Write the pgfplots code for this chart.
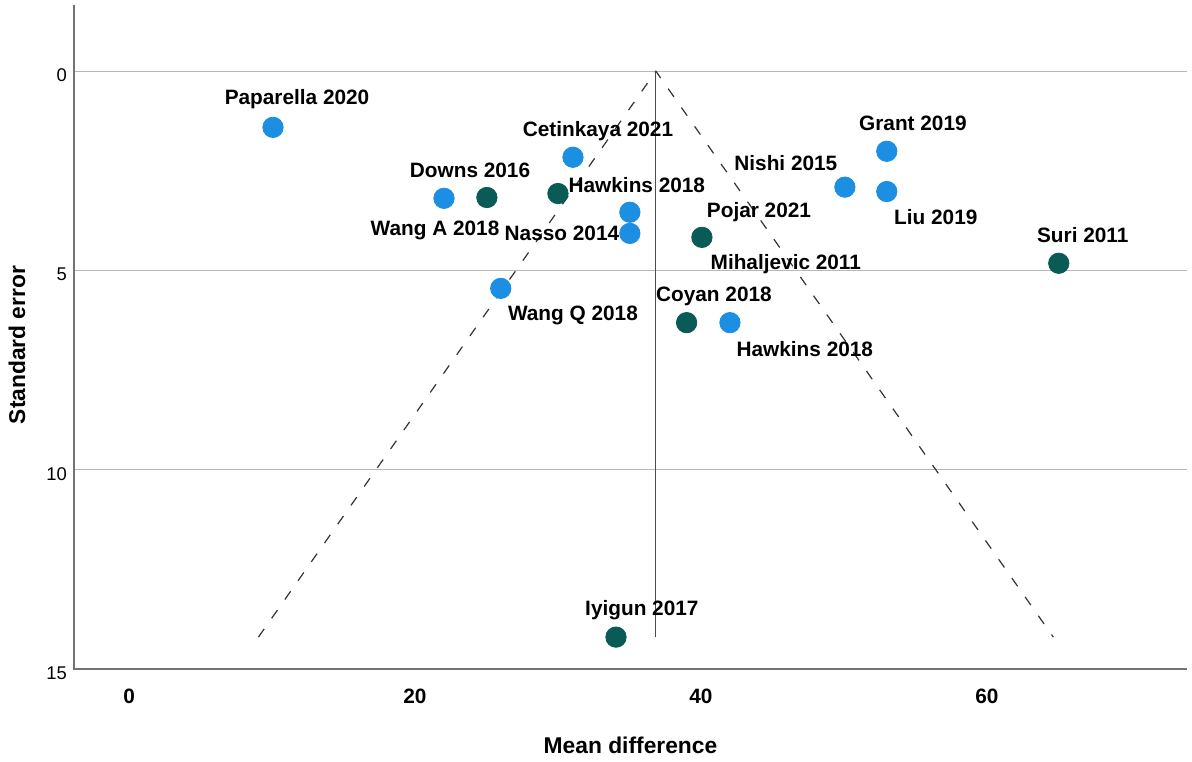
\documentclass[border=0pt]{standalone}
\usepackage{fontspec}
\setmainfont{Liberation Sans}
\usepackage{pgfplots}
\pgfplotsset{compat=1.18}
\definecolor{ptblue}{RGB}{28,143,227}
\definecolor{ptdark}{RGB}{10,90,85}
\tikzset{lab/.style={font=\fontsize{10.4}{12}\selectfont\bfseries, text height=7.45pt, text depth=0pt, inner sep=0pt, anchor=center}}
\begin{document}
\begin{tikzpicture}
\begin{axis}[name=ax, scale only axis, width=556.5pt, height=332pt,
  xmin=-3.85, xmax=74.0, ymin=-1.66, ymax=15, y dir=reverse,
  axis line style={draw=none}, major tick length=0pt,
  xtick={0,20,40,60}, ytick={0,5,10,15},
  ymajorgrids, grid style={color=black!28, line width=0.6pt},
  /pgf/number format/assume math mode=true,
  xticklabel style={font=\fontsize{10.4}{12}\selectfont\bfseries, yshift=-6.5pt},
  yticklabel style={font=\fontsize{9.2}{11}\selectfont, xshift=0pt, yshift=-2pt},
  clip=false]
% blue studies
\addplot[only marks, mark=*, mark size=5.1pt, color=ptblue, mark options={draw=ptblue, fill=ptblue}] coordinates {
  (10.07,1.41) (22.03,3.19) (31.05,2.16) (35.03,3.54) (35.03,4.07)
  (26.0,5.45) (42.03,6.31) (50.07,2.91) (53.0,2.01) (53.0,3.02)};
% dark studies
\addplot[only marks, mark=*, mark size=5.1pt, color=ptdark, mark options={draw=ptdark, fill=ptdark}] coordinates {
  (25.03,3.17) (30.0,3.07) (40.07,4.17) (39.0,6.31) (65.03,4.82) (34.06,14.2)};
% funnel
\addplot[black!80, line width=0.6pt, dash pattern=on 5pt off 6.5pt] coordinates {(9.05,14.2) (36.85,0) (64.65,14.2)};
\addplot[black!70, line width=0.6pt] coordinates {(36.85,0) (36.85,14.2)};
% labels
\node[lab] at (axis cs:11.75,0.65) {Paparella 2020};
\node[lab] at (axis cs:32.80,1.46) {Cetinkaya 2021};
\node[lab] at (axis cs:23.85,2.49) {Downs 2016};
\node[lab] at (axis cs:35.52,2.86) {Hawkins 2018};
\node[lab] at (axis cs:21.40,3.94) {Wang A 2018};
\node[lab] at (axis cs:30.28,4.07) {Nasso 2014};
\node[lab] at (axis cs:44.06,3.49) {Pojar 2021};
\node[lab] at (axis cs:45.94,4.80) {Mihaljevic 2011};
\node[lab] at (axis cs:45.94,2.31) {Nishi 2015};
\node[lab] at (axis cs:54.83,1.31) {Grant 2019};
\node[lab] at (axis cs:56.43,3.67) {Liu 2019};
\node[lab] at (axis cs:66.71,4.12) {Suri 2011};
\node[lab] at (axis cs:40.91,5.60) {Coyan 2018};
\node[lab] at (axis cs:47.27,6.98) {Hawkins 2018};
\node[lab] at (axis cs:31.05,6.08) {Wang Q 2018};
\node[lab] at (axis cs:35.87,13.47) {Iyigun 2017};
\end{axis}
\draw[black!55, line width=0.6pt] (ax.north west) -- (ax.south west) -- (ax.south east);
\node[font=\fontsize{11.4}{13}\selectfont\bfseries] at ([yshift=-38pt]ax.south) {Mean difference};
\node[font=\fontsize{11.4}{13}\selectfont\bfseries, rotate=90] at ([xshift=-28.5pt,yshift=-4pt]ax.west) {Standard error};
\pgfresetboundingbox
\path ([xshift=-37pt,yshift=-46pt]ax.south west) rectangle ([xshift=2.5pt,yshift=2.5pt]ax.north east);
\end{tikzpicture}
\end{document}
